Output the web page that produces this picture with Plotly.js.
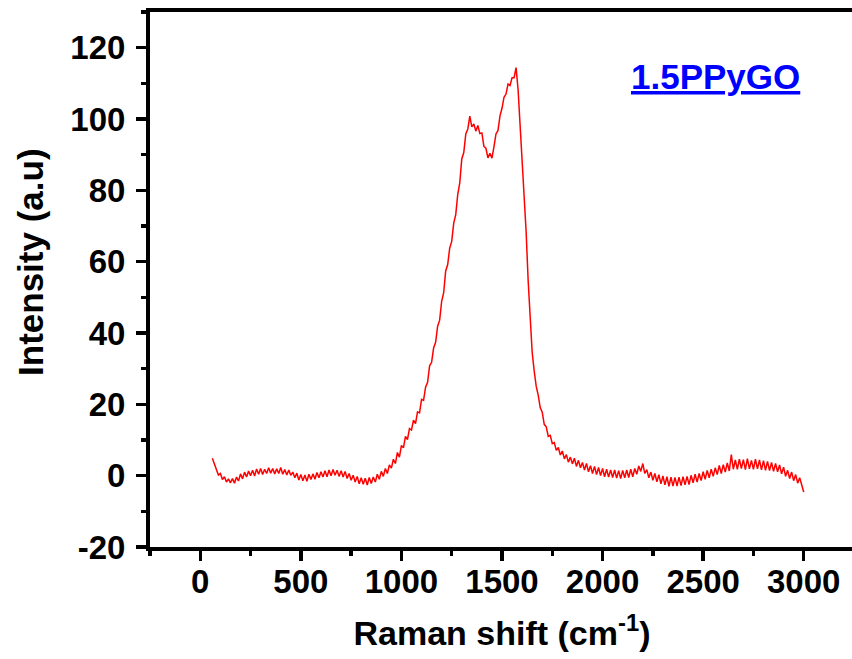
<!DOCTYPE html>
<html>
<head>
<meta charset="utf-8">
<script src="https://cdn.plot.ly/plotly-3.0.1.min.js"></script>
<style>
html,body{margin:0;padding:0;overflow:hidden;background:#fff;width:852px;height:659px;}
#chart{width:860px;height:659px;}
</style>
</head>
<body>
<div id="chart"></div>
<script>
// Raman shift (cm^-1)
const ramanShift = [
  60,70,80,90,100,110,120,130,140,150,
  160,170,180,190,200,210,220,230,240,250,
  260,270,280,290,300,310,320,330,340,350,
  360,370,380,390,400,410,420,430,440,450,
  460,470,480,490,500,510,520,530,540,550,
  560,570,580,590,600,610,620,630,640,650,
  660,670,680,690,700,710,720,730,740,750,
  760,770,780,790,800,810,820,830,840,850,
  860,870,880,890,900,910,920,930,940,950,
  960,970,980,990,1000,1010,1020,1030,1040,1050,
  1060,1070,1080,1090,1100,1110,1120,1130,1140,1150,
  1160,1170,1180,1190,1200,1210,1220,1230,1240,1250,
  1260,1270,1280,1290,1300,1310,1320,1330,1340,1350,
  1360,1370,1380,1390,1400,1410,1420,1430,1440,1450,
  1460,1470,1480,1490,1500,1510,1520,1530,1540,1550,
  1560,1570,1580,1590,1600,1610,1620,1630,1640,1650,
  1660,1670,1680,1690,1700,1710,1720,1730,1740,1750,
  1760,1770,1780,1790,1800,1810,1820,1830,1840,1850,
  1860,1870,1880,1890,1900,1910,1920,1930,1940,1950,
  1960,1970,1980,1990,2000,2010,2020,2030,2040,2050,
  2060,2070,2080,2090,2100,2110,2120,2130,2140,2150,
  2160,2170,2180,2190,2200,2210,2220,2230,2240,2250,
  2260,2270,2280,2290,2300,2310,2320,2330,2340,2350,
  2360,2370,2380,2390,2400,2410,2420,2430,2440,2450,
  2460,2470,2480,2490,2500,2510,2520,2530,2540,2550,
  2560,2570,2580,2590,2600,2610,2620,2630,2640,2650,
  2660,2670,2680,2690,2700,2710,2720,2730,2740,2750,
  2760,2770,2780,2790,2800,2810,2820,2830,2840,2850,
  2860,2870,2880,2890,2900,2910,2920,2930,2940,2950,
  2960,2970,2980,2990,3000
];
// Intensity (a.u)
const intensity = [
  4.9,3.2,1.8,0.2,0.6,-1.1,-0.3,-1.8,-0.9,-2.0,
  -0.8,-2.1,-0.4,-1.5,0.5,-0.9,1.0,-0.4,1.3,0.0,
  1.5,-0.1,1.9,0.4,2.0,0.3,1.8,0.6,2.2,0.7,
  2.0,0.5,1.9,0.6,2.3,0.4,1.7,0.2,1.6,0.1,
  1.0,-0.6,0.7,-1.2,0.3,-1.4,0.2,-1.6,0.4,-1.1,
  0.5,-1.0,0.9,-0.6,1.1,-0.4,1.4,-0.3,1.6,0.0,
  1.7,0.1,1.5,-0.2,1.4,-0.4,1.2,-0.8,0.6,-1.3,
  0.1,-1.8,-0.2,-2.3,-0.6,-2.4,-0.7,-2.6,-0.5,-2.2,
  -0.4,-1.8,0.4,-1.0,1.2,-0.2,2.0,0.6,3.0,2.1,
  4.6,3.4,6.5,5.2,8.5,7.8,11.0,10.1,13.2,12.8,
  15.6,14.6,17.9,17.6,21.4,21.1,24.8,26.2,30.8,31.8,
  35.8,37.4,41.9,43.6,48.9,51.3,57.4,59.2,63.8,65.7,
  70.8,73.2,78.9,82.1,88.8,90.6,95.8,97.2,100.8,97.8,
  98.6,96.6,98.2,95.9,96.1,92.3,91.8,89.1,90.4,89.0,
  92.2,95.8,96.8,100.9,103.0,106.1,107.0,109.8,109.4,111.6,
  111.6,114.4,108.2,98.6,89.4,79.6,68.3,54.7,44.3,34.6,
  29.4,25.1,22.6,19.1,17.8,14.4,13.7,11.0,11.3,9.0,
  9.3,7.1,7.9,5.8,6.9,4.7,5.9,3.8,5.2,3.3,
  4.9,2.6,4.3,2.2,3.7,1.6,3.4,1.1,2.8,0.6,
  2.6,0.3,2.3,0.0,2.0,-0.3,1.8,-0.4,1.6,-0.5,
  1.6,-0.7,1.4,-0.8,1.5,-0.6,1.6,-0.5,1.8,-0.3,
  2.0,0.4,2.7,1.2,3.4,0.6,1.7,-0.6,1.0,-1.3,
  0.6,-1.7,0.3,-2.3,-0.1,-2.6,-0.3,-3.0,-0.4,-2.9,
  -0.5,-2.9,-0.4,-2.8,-0.3,-2.6,-0.2,-2.5,0.1,-2.0,
  0.4,-1.8,0.6,-1.4,1.1,-1.0,1.5,-0.6,1.8,-0.2,
  2.2,0.3,2.9,0.6,3.1,1.0,3.6,1.3,5.9,1.8,
  4.4,1.8,4.6,2.0,4.5,1.7,4.8,1.9,4.3,1.8,
  4.6,1.9,4.4,1.6,4.2,1.5,4.0,1.4,3.7,1.2,
  3.4,1.1,3.0,0.5,2.4,-0.2,1.5,-0.8,1.0,-1.4,
  0.3,-2.1,-0.6,-2.9,-4.6
];
const xTickVals = [0,500,1000,1500,2000,2500,3000];
const yTickVals = [-20,0,20,40,60,80,100,120];
const sampleLabel = '1.5PPyGO';
const xTitle = 'Raman shift (cm<sup>-1</sup>)';
const yTitle = 'Intensity (a.u)';

const fam = 'Liberation Sans, Arial, sans-serif';
const tickFont = {family: fam, color: '#000', size: 33, weight: 'bold'};
const titleFont = {family: fam, color: '#000', size: 34, weight: 'bold'};

const trace = {
  x: ramanShift, y: intensity, type: 'scatter', mode: 'lines',
  line: {color: '#ff0000', width: 1.5}, hoverinfo: 'skip'
};

const layout = {
  width: 860, height: 659,
  margin: {l: 150, r: 6, t: 12, b: 112},
  paper_bgcolor: '#fff', plot_bgcolor: '#fff',
  showlegend: false,
  font: tickFont,
  xaxis: {
    range: [-250, 3250], tickvals: xTickVals, ticktext: xTickVals.map(String),
    showgrid: false, zeroline: false,
    showline: true, mirror: true, linecolor: '#000', linewidth: 4,
    ticks: 'outside', ticklen: 10, tickwidth: 3.5, tickcolor: '#000',
    ticklabelstandoff: -8,
    minor: {dtick: 250, tick0: 0, ticks: 'outside', ticklen: 5, tickwidth: 3.5, tickcolor: '#000', showgrid: false},
    tickfont: tickFont,
    title: {text: xTitle, font: titleFont, standoff: 24}
  },
  yaxis: {
    range: [-20, 130], tickvals: yTickVals, ticktext: yTickVals.map(String),
    showgrid: false, zeroline: false,
    showline: true, mirror: true, linecolor: '#000', linewidth: 4,
    ticks: 'outside', ticklen: 10, tickwidth: 3.5, tickcolor: '#000',
    ticklabelstandoff: 4,
    minor: {dtick: 10, tick0: 0, ticks: 'outside', ticklen: 5, tickwidth: 3.5, tickcolor: '#000', showgrid: false},
    tickfont: tickFont
  },
  annotations: [
    {
      x: 2563, y: 112, xref: 'x', yref: 'y',
      text: '<u>' + sampleLabel + '</u>', showarrow: false,
      font: {family: fam, size: 35, color: '#0000ff', weight: 'bold'}
    },
    {
      x: -0.1705, y: 0.5327, xref: 'paper', yref: 'paper',
      xanchor: 'center', yanchor: 'middle', textangle: -90,
      text: yTitle, showarrow: false, font: {family: fam, size: 35, color: '#000', weight: 'bold'}
    }
  ]
};

Plotly.newPlot('chart', [trace], layout, {displayModeBar: false, staticPlot: true});
</script>
</body>
</html>
